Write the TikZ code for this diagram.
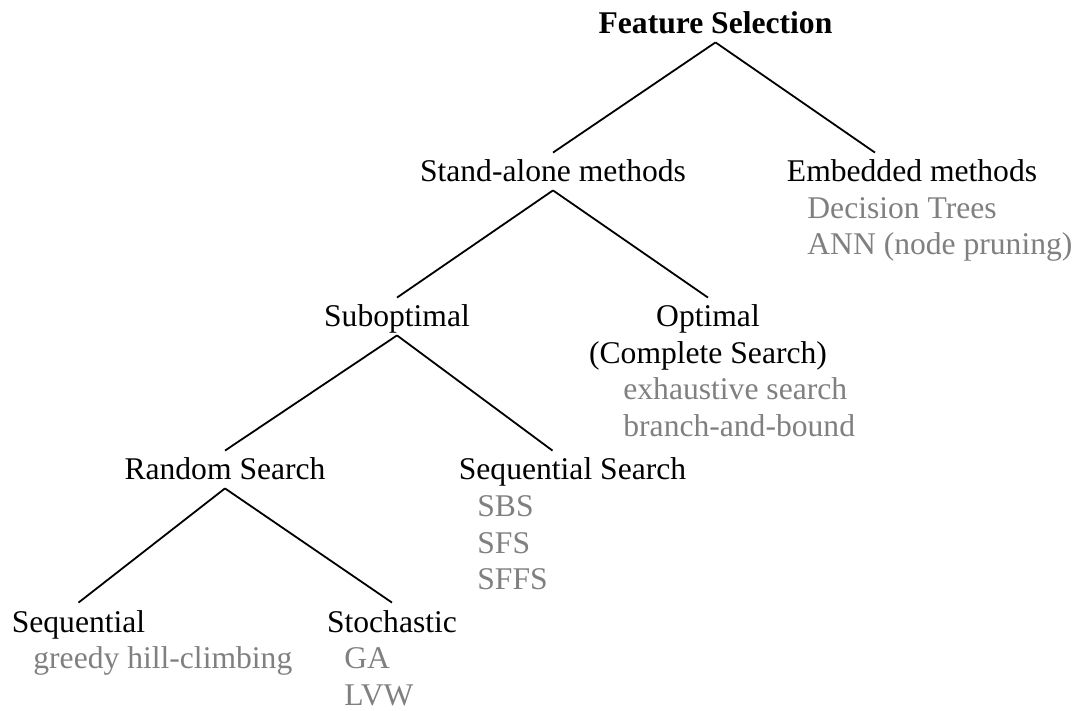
\documentclass[tikz,border=0pt]{standalone}
\usepackage{fontspec}
\setmainfont{Liberation Serif}
\definecolor{itemgray}{RGB}{128,128,128}
\newcommand{\treefont}{\fontsize{15.8}{18}\selectfont}
\tikzset{
  cat/.style={anchor=base, inner xsep=0pt, inner ysep=4pt, text height=10.5pt, text depth=0pt},
  item/.style={anchor=base west, inner sep=0pt, text=itemgray},
  treeline/.style={line width=0.9pt}
}

\begin{document}
\begin{tikzpicture}[x=0.5pt, y=-0.5pt, every node/.style={font=\treefont}]
        \useasboundingbox (0,0) rectangle (1077,711);
        % Root
        \node[cat, font=\treefont\bfseries] (fs) at (715.5,34) {Feature Selection};
        % First level
        \node[cat] (sa) at (553,182) {Stand-alone methods};
        \node[cat] (emb) at (912,182) {Embedded methods};
        \node[item] (dt) at (807,218.5) {Decision Trees};
        \node[item] (ann) at (807,255) {ANN (node pruning)};
        % Second level
        \node[cat] (sub) at (397,327) {Suboptimal};
        \node[cat] (opt) at (708,327) {Optimal};
        \node[anchor=base, inner sep=0pt] (cs) at (708,363.5) {(Complete Search)};
        \node[item] (ex) at (623,400) {exhaustive search};
        \node[item] (bb) at (623,436.5) {branch-and-bound};
        % Third level
        \node[cat] (rs) at (225,480) {Random Search};
        \node[cat] (ss) at (572.5,480) {Sequential Search};
        \node[item] (sbs) at (477,516.5) {SBS};
        \node[item] (sfs) at (477,553) {SFS};
        \node[item] (sffs) at (477,589.5) {SFFS};
        % Fourth level
        \node[cat] (sq) at (78.5,632) {Sequential};
        \node[item] (gh) at (33,668.5) {greedy hill-climbing};
        \node[cat] (st) at (392,632) {Stochastic};
        \node[item] (ga) at (344,668.5) {GA};
        \node[item] (lvw) at (344,705) {LVW};

        \draw[treeline] (fs.south) -- (sa.north);
        \draw[treeline] (fs.south) -- ([xshift=-18.5pt]emb.north);
        \draw[treeline] (sa.south) -- (sub.north);
        \draw[treeline] (sa.south) -- (opt.north);
        \draw[treeline] (sub.south) -- (rs.north);
        \draw[treeline] (sub.south) -- ([xshift=-10pt]ss.north);
        \draw[treeline] (rs.south) -- (sq.north);
        \draw[treeline] (rs.south) -- (st.north);
    \end{tikzpicture}
\end{document}
